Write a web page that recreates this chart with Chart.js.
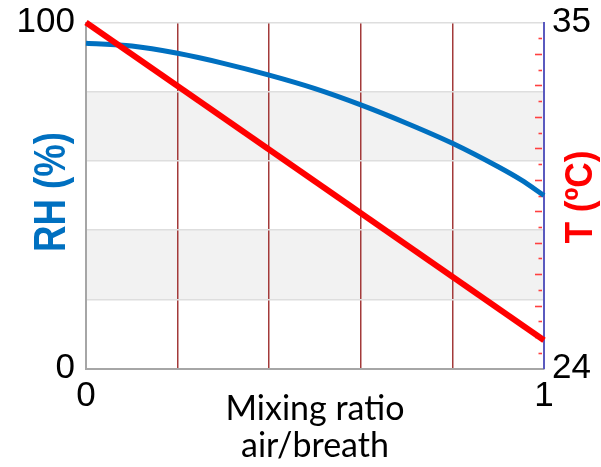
<!DOCTYPE html>
<html><head><meta charset="utf-8">
<script src="https://cdn.jsdelivr.net/npm/chart.js@4.4.1/dist/chart.umd.min.js"></script>
<style>html,body{margin:0;padding:0;background:#fff;}#wrap{width:601px;height:467px;}</style>
</head><body><div id="wrap"><canvas id="c" width="601" height="467"></canvas></div>
<script>
// ---- data ----
const mixRatio = [0, 0.1, 0.2, 0.3, 0.4, 0.5, 0.6, 0.7, 0.8, 0.9, 0.95, 1];
const rhValues = [94.0, 93.2, 91.1, 88.2, 84.8, 80.9, 76.2, 70.9, 65.1, 58.3, 54.5, 50.0];
const tMix = [0, 1];
const tValues = [35, 24.9];
const xTickLabels = ['0', '1'];
const rhTickLabels = ['0', '100'];
const tTickLabels = ['24', '35'];
const rhBands = [[20, 40], [60, 80]];
const xTitle = ['Mixing ratio', 'air/breath'];
const rhTitle = 'RH (%)';
const tTitle = 'T (ºC)';

const near = (a, b) => Math.abs(a - b) < 1e-6;

const decor = {
  id: 'decor',
  beforeDraw(chart) {
    const {ctx, chartArea: a, scales: {y}} = chart;
    ctx.save();
    ctx.fillStyle = '#f2f2f2';
    rhBands.forEach(([lo, hi]) => {
      const y1 = y.getPixelForValue(hi), y2 = y.getPixelForValue(lo);
      ctx.fillRect(a.left, y1, a.right - a.left, y2 - y1);
    });
    ctx.restore();
  },
  beforeDatasetsDraw(chart) {
    const {ctx, scales: {y2}} = chart;
    ctx.save();
    ctx.strokeStyle = '#ff4040';
    ctx.lineWidth = 1.6;
    y2.ticks.forEach(t => {
      if (near(t.value, y2.min) || near(t.value, y2.max)) return;
      const py = Math.round(y2.getPixelForValue(t.value)) + 0.5;
      const len = near(t.value, Math.round(t.value)) ? 7 : 3.5;
      const xe = y2.left - 2;
      ctx.beginPath();
      ctx.moveTo(xe - len, py);
      ctx.lineTo(xe, py);
      ctx.stroke();
    });
    ctx.restore();
  },
  afterDraw(chart) {
    const {ctx} = chart;
    const drawTitle = (text, font, color, baseX, centerY, len) => {
      ctx.save();
      ctx.font = font;
      ctx.fillStyle = color;
      ctx.textAlign = 'center';
      ctx.textBaseline = 'alphabetic';
      const w = ctx.measureText(text).width;
      ctx.translate(baseX, centerY);
      ctx.rotate(-Math.PI / 2);
      ctx.scale(len / w, 1);
      ctx.fillText(text, 0, 0);
      ctx.restore();
    };
    drawTitle(rhTitle, 'bold 44px "Liberation Sans", Arial, sans-serif', '#0070c0', 65, 192, 120);
    drawTitle(tTitle, 'bold 38px "Liberation Sans", Arial, sans-serif', '#ff0000', 592, 197, 93);
  }
};

const tickFontX = {family: '"Liberation Sans", Arial, sans-serif', size: 35};
const tickFontY = {family: '"Liberation Sans", Arial, sans-serif', size: 35, lineHeight: 0.55};

new Chart(document.getElementById('c'), {
  type: 'line',
  data: {
    datasets: [
      {
        label: 'T',
        data: tMix.map((x, i) => ({x, y: tValues[i]})),
        yAxisID: 'y2',
        borderColor: '#ff0000',
        borderWidth: 6,
        pointRadius: 0,
        tension: 0,
        clip: false
      },
      {
        label: 'RH',
        data: mixRatio.map((x, i) => ({x, y: rhValues[i]})),
        yAxisID: 'y',
        borderColor: '#0070c0',
        borderWidth: 5,
        pointRadius: 0,
        cubicInterpolationMode: 'monotone',
        clip: false
      }
    ]
  },
  options: {
    responsive: false,
    animation: false,
    layout: {padding: {top: 22.5, left: 0, right: 0, bottom: 0}},
    plugins: {legend: {display: false}, tooltip: {enabled: false}},
    scales: {
      x: {
        type: 'linear', min: 0, max: 1,
        ticks: {
          stepSize: 0.2, autoSkip: false, maxRotation: 0, padding: 7,
          font: tickFontX, color: '#000',
          callback: v => near(v, 0) ? xTickLabels[0] : near(v, 1) ? xTickLabels[1] : ''
        },
        grid: {
          drawTicks: false, lineWidth: 1.5,
          color: c => (c.tick && (near(c.tick.value, 0) || near(c.tick.value, 1))) ? 'rgba(0,0,0,0)' : '#a33a3a'
        },
        border: {color: '#a6a6a6', width: 2},
        title: {
          display: true, text: xTitle, color: '#000',
          font: {family: 'Lato, "Open Sans", sans-serif', size: 34, lineHeight: 1.07},
          padding: {top: 0, bottom: 3}
        },
        afterFit: s => { s.height = 98.5; }
      },
      y: {
        type: 'linear', position: 'left', min: 0, max: 100,
        ticks: {
          stepSize: 20, autoSkip: false, padding: 11, font: tickFontY, color: '#000',
          callback: v => near(v, 0) ? rhTickLabels[0] : near(v, 100) ? rhTickLabels[1] : ''
        },
        grid: {
          drawTicks: false, lineWidth: 1.5,
          color: c => (c.tick && near(c.tick.value, 0)) ? 'rgba(0,0,0,0)' : '#dedede'
        },
        border: {color: '#a6a6a6', width: 2},
        afterFit: s => { s.width = 86; }
      },
      y2: {
        type: 'linear', position: 'right', min: 24, max: 35,
        ticks: {
          stepSize: 0.5, autoSkip: false, padding: 8, font: tickFontY, color: '#000',
          callback: v => near(v, 24) ? tTickLabels[0] : near(v, 35) ? tTickLabels[1] : ''
        },
        grid: {drawOnChartArea: false, drawTicks: false},
        border: {color: '#5a5abf', width: 2},
        afterFit: s => { s.width = 57; }
      }
    }
  },
  plugins: [decor]
});
</script>
</body></html>
